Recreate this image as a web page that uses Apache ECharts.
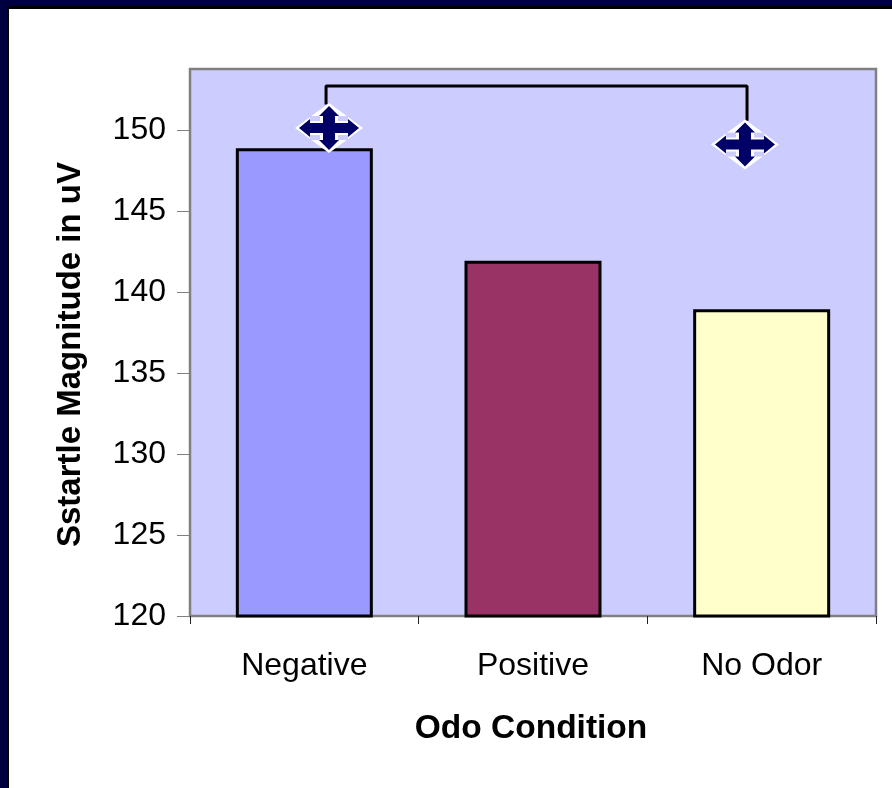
<!DOCTYPE html>
<html>
<head>
<meta charset="utf-8">
<style>
  html, body { margin: 0; padding: 0; background: #fff; }
  #chart { width: 892px; height: 788px; }
</style>
<script src="https://cdn.jsdelivr.net/npm/echarts@6/dist/echarts.min.js"></script>
</head>
<body>
<div id="chart"></div>
<script>
const categories = ['Negative', 'Positive', 'No Odor'];
const values = [148.9, 141.95, 138.95];
const barColors = ['#9999FF', '#993366', '#FFFFCC'];
const yTicks = [120, 125, 130, 135, 140, 145, 150];
const yMin = 120;
const yMax = 153.8;

// bracket and drag markers, in category units (0..3) and uV
const bracketPoints = [[0.595, 151.6], [0.595, 152.75], [2.436, 152.75], [2.436, 150.6]];
const markerPoints = [[0.608, 150.15], [2.427, 149.13]];

const font = '"Liberation Sans", Arial, sans-serif';

// one move-cursor glyph: white diamond, pale squares, navy four-way arrow
function renderMarker(params, api) {
    const c = api.coord([api.value(0), api.value(1)]);
    const x = c[0], y = c[1];
    const navy = '#000066';
    const arrow = [
        [0, -22], [10, -12], [6, -12], [6, -5], [19, -5], [19, -9], [30, 0],
        [19, 9], [19, 5], [6, 5], [6, 12], [10, 12], [0, 22], [-10, 12], [-6, 12],
        [-6, 5], [-19, 5], [-19, 9], [-30, 0], [-19, -9], [-19, -5], [-6, -5],
        [-6, -12], [-10, -12]
    ].map(p => [x + p[0], y + p[1]]);
    const pale = [[-19, -12], [9, -12], [-19, 7], [9, 7]].map(p => ({
        type: 'rect',
        shape: { x: x + p[0], y: y + p[1], width: 10, height: 5 },
        style: { fill: '#CCCCFF' }
    }));
    return {
        type: 'group',
        children: [
            {
                type: 'polygon',
                shape: { points: [[x, y - 25], [x + 34, y], [x, y + 25], [x - 34, y]] },
                style: { fill: '#fff' }
            },
            ...pale,
            { type: 'polygon', shape: { points: arrow }, style: { fill: navy } }
        ]
    };
}

const chart = echarts.init(document.getElementById('chart'));
chart.setOption({
    animation: false,
    backgroundColor: '#fff',
    graphic: [
        { type: 'rect', z: -1, shape: { x: 0, y: 0, width: 892, height: 9 }, style: { fill: '#000' } },
        { type: 'rect', z: -1, shape: { x: 0, y: 0, width: 9, height: 788 }, style: { fill: '#000' } },
        { type: 'rect', z: 0, shape: { x: 0, y: 0, width: 892, height: 6 }, style: { fill: '#000040' } },
        { type: 'rect', z: 0, shape: { x: 0, y: 0, width: 7, height: 788 }, style: { fill: '#000040' } }
    ],
    grid: {
        left: 190,
        right: 16,
        top: 69,
        bottom: 172,
        show: true,
        backgroundColor: '#CCCCFF',
        borderColor: '#808080',
        borderWidth: 2.5
    },
    xAxis: [
        {
            type: 'category',
            data: categories,
            name: 'Odo Condition',
            nameLocation: 'middle',
            nameGap: 96,
            nameTextStyle: { fontFamily: font, fontSize: 33.5, fontWeight: 'bold', color: '#000', padding: [0, 4, 0, 0] },
            axisLine: { lineStyle: { color: '#808080', width: 2 } },
            axisTick: { show: true, length: 8, lineStyle: { color: '#222', width: 1 } },
            axisLabel: { fontFamily: font, fontSize: 32, color: '#000', margin: 34 }
        },
        { type: 'value', min: 0, max: 3, show: false }
    ],
    yAxis: {
        type: 'value',
        min: yMin,
        max: yMax,
        name: 'Sstartle Magnitude in uV',
        nameLocation: 'middle',
        nameGap: 103,
        nameTextStyle: { fontFamily: font, fontSize: 33, fontWeight: 'bold', color: '#000', padding: [0, 24, 0, 0] },
        splitLine: { show: false },
        axisLine: { show: true, lineStyle: { color: '#808080', width: 2 } },
        axisTick: { show: true, length: 13, customValues: yTicks, lineStyle: { color: '#808080', width: 1 } },
        axisLabel: { fontFamily: font, fontSize: 32, color: '#000', margin: 24, customValues: yTicks }
    },
    series: [
        {
            type: 'bar',
            barWidth: 137,
            data: values.map((v, i) => ({
                value: v,
                itemStyle: { color: barColors[i], borderColor: '#000', borderWidth: 3 }
            }))
        },
        {
            type: 'line',
            xAxisIndex: 1,
            data: bracketPoints,
            symbol: 'none',
            lineStyle: { color: '#000', width: 3 }
        },
        {
            type: 'custom',
            xAxisIndex: 1,
            data: markerPoints,
            renderItem: renderMarker,
            z: 5
        }
    ]
});
</script>
</body>
</html>
